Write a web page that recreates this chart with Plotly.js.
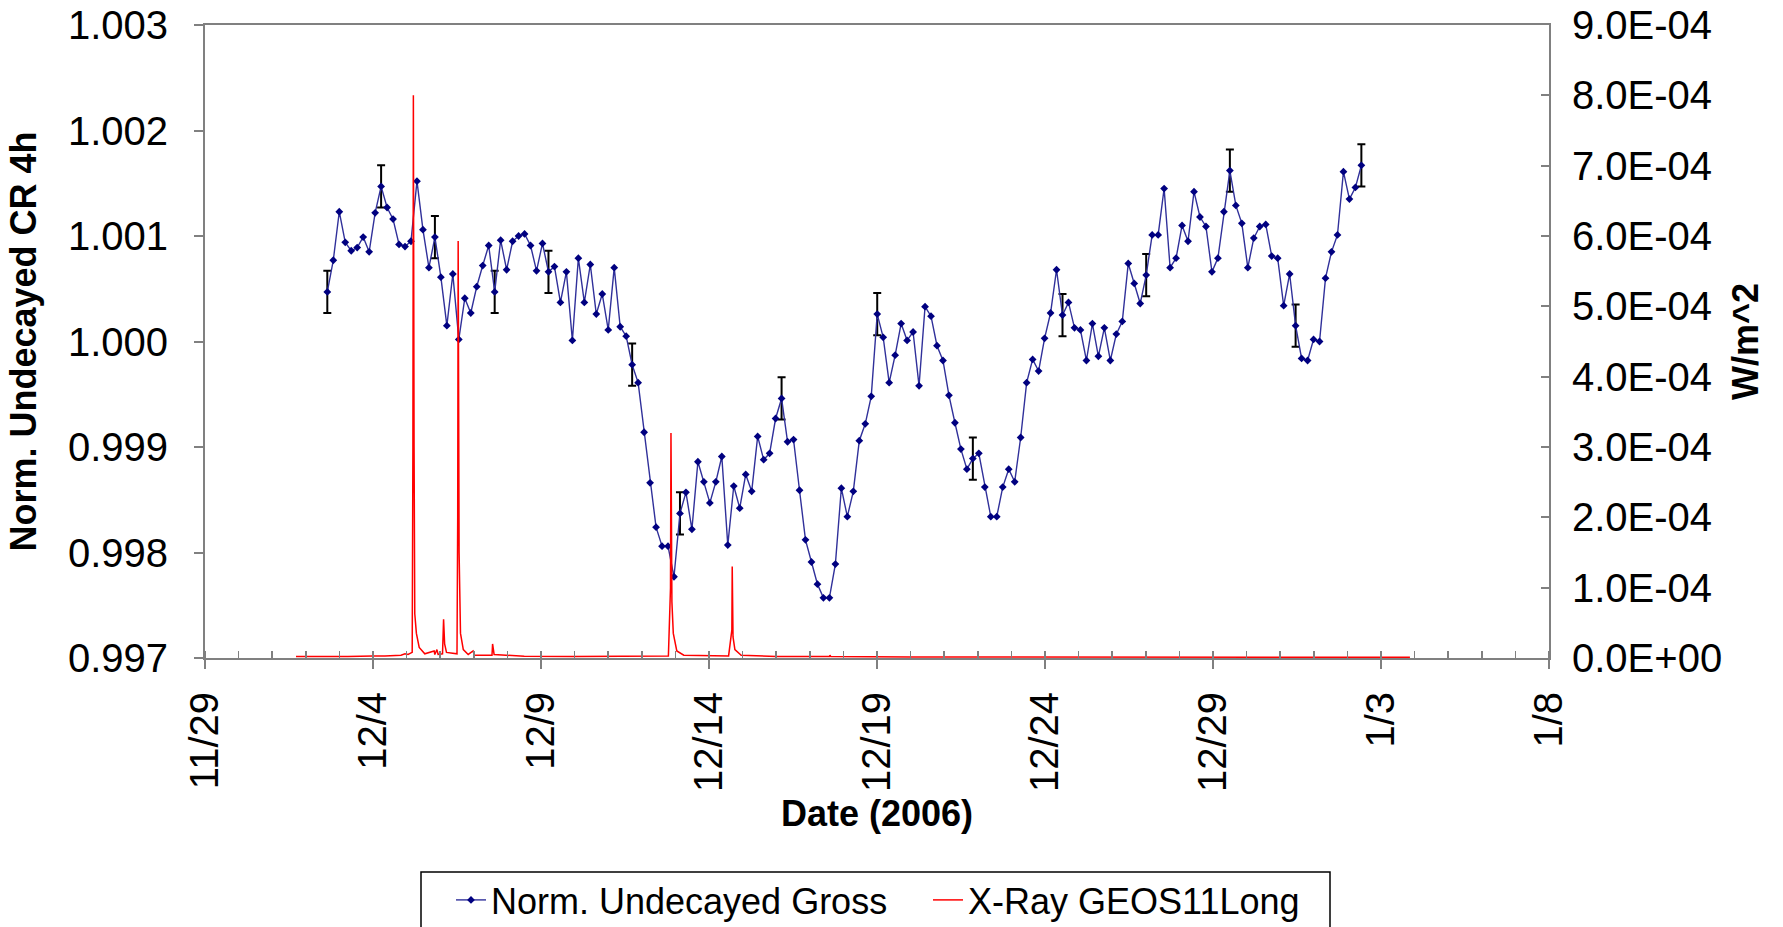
<!DOCTYPE html>
<html>
<head>
<meta charset="utf-8">
<script src="https://cdn.plot.ly/plotly-3.0.1.min.js"></script>
<style>
  html, body { margin: 0; padding: 0; background: #ffffff; }
  #chart { width: 1783px; height: 927px; }
</style>
</head>
<body>
<div id="chart"></div>
<script>
// ---------------- DATA ----------------
// Norm. Undecayed Gross: regularly sampled series (start time + sampling step)
const grossStart = '2006-12-02 15:22';
const grossStepMs = 15370000; // ~4.27 h between samples
const grossValues = [
  1.00047, 1.00077, 1.00123, 1.00094, 1.00086, 1.00089, 1.00099, 1.00085, 1.00122, 1.00147,
  1.00127, 1.00116, 1.00092, 1.00090, 1.00095, 1.00152, 1.00106, 1.00070, 1.00099, 1.00061,
  1.00015, 1.00064, 1.00002, 1.00041, 1.00027, 1.00052, 1.00072, 1.00091, 1.00047, 1.00096,
  1.00068, 1.00095, 1.00100, 1.00102, 1.00091, 1.00067, 1.00093, 1.00066, 1.00071, 1.00037,
  1.00066, 1.00001, 1.00079, 1.00037, 1.00073, 1.00026, 1.00045, 1.00011, 1.00070, 1.00014,
  1.00005, 0.99978, 0.99961, 0.99914, 0.99866, 0.99824, 0.99806, 0.99806, 0.99777, 0.99837,
  0.99857, 0.99822, 0.99886, 0.99867, 0.99847, 0.99867, 0.99891, 0.99807, 0.99863, 0.99842,
  0.99874, 0.99858, 0.99910, 0.99888, 0.99894, 0.99927, 0.99946, 0.99905, 0.99907, 0.99859,
  0.99812, 0.99791, 0.99770, 0.99757, 0.99757, 0.99789, 0.99861, 0.99834, 0.99858, 0.99906,
  0.99922, 0.99948, 1.00026, 1.00004, 0.99961, 0.99987, 1.00017, 1.00001, 1.00009, 0.99958,
  1.00033, 1.00024, 0.99996, 0.99982, 0.99949, 0.99923, 0.99898, 0.99879, 0.99889, 0.99894,
  0.99862, 0.99834, 0.99834, 0.99862, 0.99879, 0.99867, 0.99909, 0.99961, 0.99983, 0.99972,
  1.00003, 1.00027, 1.00068, 1.00025, 1.00037, 1.00013, 1.00011, 0.99982, 1.00017, 0.99986,
  1.00013, 0.99982, 1.00007, 1.00019, 1.00074, 1.00055, 1.00036, 1.00063, 1.00101, 1.00101,
  1.00145, 1.00070, 1.00079, 1.00110, 1.00095, 1.00142, 1.00118, 1.00109, 1.00066, 1.00079,
  1.00123, 1.00162, 1.00129, 1.00112, 1.00070, 1.00098, 1.00109, 1.00111, 1.00081, 1.00079,
  1.00034, 1.00064, 1.00015, 0.99984, 0.99982, 1.00002, 1.00000, 1.00060, 1.00085, 1.00101,
  1.00161, 1.00135, 1.00146, 1.00167
];
// samples that carry an error bar, and the bar size (+/-)
const errorPointIndex = [0, 9, 18, 28, 37, 51, 59, 76, 92, 108, 123, 137, 151, 162, 173];
const errorSize = [0.0002, 0.0002, 0.0002, 0.0002, 0.0002, 0.0002, 0.0002, 0.0002,
                   0.0002, 0.0002, 0.0002, 0.0002, 0.0002, 0.0002, 0.0002];

// X-Ray GEOS11 Long channel (W/m^2)
const xrayTimes = [
  '2006-12-01 17:00', '2006-12-02 12:00', '2006-12-03 06:00', '2006-12-04 00:00', '2006-12-04 07:00',
  '2006-12-04 07:30', '2006-12-04 08:30', '2006-12-04 20:00', '2006-12-04 22:50', '2006-12-05 01:00',
  '2006-12-05 04:00', '2006-12-05 04:30', '2006-12-05 04:50', '2006-12-05 05:20', '2006-12-05 05:50',
  '2006-12-05 07:00', '2006-12-05 09:00', '2006-12-05 13:00', '2006-12-05 19:40', '2006-12-05 20:10',
  '2006-12-05 21:40', '2006-12-05 22:30', '2006-12-06 01:40', '2006-12-06 02:25', '2006-12-06 03:10',
  '2006-12-06 04:30', '2006-12-06 12:00', '2006-12-06 12:30', '2006-12-06 12:50', '2006-12-06 13:30',
  '2006-12-06 14:30', '2006-12-06 16:30', '2006-12-06 20:00', '2006-12-06 23:30', '2006-12-07 00:30',
  '2006-12-07 13:00', '2006-12-07 13:25', '2006-12-07 14:30', '2006-12-08 12:00', '2006-12-10 00:00',
  '2006-12-11 12:00', '2006-12-12 19:00', '2006-12-12 20:30', '2006-12-12 20:50', '2006-12-12 21:30',
  '2006-12-12 22:30', '2006-12-13 01:00', '2006-12-13 06:00', '2006-12-14 14:00', '2006-12-14 16:20',
  '2006-12-14 16:35', '2006-12-14 17:10', '2006-12-14 18:30', '2006-12-14 23:00', '2006-12-16 00:00',
  '2006-12-17 14:00', '2006-12-17 14:25', '2006-12-17 15:00', '2006-12-20 00:00', '2006-12-25 00:00',
  '2006-12-30 00:00', '2007-01-03 20:40'
];
const xrayFlux = [
  2e-6, 1.5e-6, 2e-6, 3e-6, 3e-6,
  2.5e-6, 3e-6, 4e-6, 6e-6, 5e-6,
  8e-6, 3.0e-4, 8.0e-4, 3.0e-4, 6.3e-5,
  3.5e-5, 1.5e-5, 6e-6, 1.0e-5, 5e-6,
  1.2e-5, 5e-6, 6e-6, 5.5e-5, 2e-5,
  8e-6, 6e-6, 2.0e-4, 5.93e-4, 1.5e-4,
  3.5e-5, 1.2e-5, 5e-6, 1.0e-5, 4e-6,
  4e-6, 2.0e-5, 5e-6, 2.5e-6, 2e-6,
  2e-6, 3e-6, 1.0e-4, 3.2e-4, 8e-5,
  3.5e-5, 1.0e-5, 4e-6, 3e-6, 4e-5,
  1.3e-4, 3e-5, 1.2e-5, 4e-6, 2e-6,
  2e-6, 4e-6, 2e-6, 1.5e-6, 1e-6,
  1e-6, 1e-6
];

// axis ticks
const dateRange = ['2006-11-29', '2007-01-08'];
const dateTickFormat = '%-m/%-d';     // 11/29, 12/4, ... 1/8
const dateMajorStepDays = 5;
const dateMinorStepDays = 1;
const leftTickVals = [0.997, 0.998, 0.999, 1.000, 1.001, 1.002, 1.003];
const leftTickText = ['0.997', '0.998', '0.999', '1.000', '1.001', '1.002', '1.003'];
const rightTickVals = [0, 1e-4, 2e-4, 3e-4, 4e-4, 5e-4, 6e-4, 7e-4, 8e-4, 9e-4];
const rightTickText = ['0.0E+00', '1.0E-04', '2.0E-04', '3.0E-04', '4.0E-04',
                       '5.0E-04', '6.0E-04', '7.0E-04', '8.0E-04', '9.0E-04'];

// ---------------- CHART ----------------
const FONT = 'Liberation Sans, Arial, Helvetica, sans-serif';
const AXIS_GRAY = '#808080';
const DAY_MS = 86400000;

const errArray = grossValues.map(() => NaN);
errorPointIndex.forEach((k, j) => { errArray[k] = errorSize[j]; });

const grossTrace = {
  type: 'scatter',
  mode: 'lines+markers',
  name: 'Norm. Undecayed Gross',
  x0: grossStart,
  dx: grossStepMs,
  y: grossValues,
  line: { color: '#30309a', width: 1.4 },
  marker: { symbol: 'diamond', size: 6, color: '#000080' },
  error_y: { type: 'data', array: errArray, visible: true, color: '#000000', thickness: 2, width: 4 },
  xaxis: 'x', yaxis: 'y'
};

const xrayTrace = {
  type: 'scatter',
  mode: 'lines',
  name: 'X-Ray GEOS11Long',
  x: xrayTimes,
  y: xrayFlux,
  line: { color: '#ff0000', width: 1.5 },
  xaxis: 'x', yaxis: 'y2'
};

const L = 205, R = 1549, T = 25, B = 658;
const px2paperX = (p) => (p - L) / (R - L);
const px2paperY = (p) => (B - p) / (B - T);

const layout = {
  width: 1783, height: 927,
  margin: { l: L, r: 1783 - R, t: T, b: 927 - B, autoexpand: false },
  paper_bgcolor: '#ffffff', plot_bgcolor: '#ffffff',
  font: { family: FONT, color: '#000000' },
  showlegend: true,
  legend: {
    orientation: 'h', x: px2paperX(451), xanchor: 'left', y: px2paperY(870), yanchor: 'top',
    font: { size: 36, family: FONT, color: '#000000' },
    bgcolor: 'rgba(0,0,0,0)', borderwidth: 0, entrywidth: 432, traceorder: 'normal'
  },
  xaxis: {
    type: 'date', range: dateRange,
    tickmode: 'linear', tick0: dateRange[0], dtick: dateMajorStepDays * DAY_MS,
    tickformat: dateTickFormat,
    tickangle: -90, tickfont: { size: 40, family: FONT, color: '#000' },
    ticks: 'outside', ticklen: 9, tickwidth: 2, tickcolor: AXIS_GRAY,
    ticklabelstandoff: 7,
    minor: { tickmode: 'linear', tick0: dateRange[0], dtick: dateMinorStepDays * DAY_MS,
             ticks: 'inside', ticklen: 7, tickwidth: 1.5, tickcolor: AXIS_GRAY, showgrid: false },
    showline: true, linecolor: AXIS_GRAY, linewidth: 2, mirror: true,
    showgrid: false, zeroline: false, automargin: false,
    title: { text: 'Date (2006)', font: { size: 36, family: FONT, weight: 'bold' }, standoff: 10 }
  },
  yaxis: {
    range: [0.997, 1.003],
    tickmode: 'array', tickvals: leftTickVals, ticktext: leftTickText,
    tickfont: { size: 40, family: FONT, color: '#000' },
    ticks: 'outside', ticklen: 9, tickwidth: 2, tickcolor: AXIS_GRAY,
    ticklabelstandoff: 18,
    showline: true, linecolor: AXIS_GRAY, linewidth: 2,
    showgrid: false, zeroline: false, automargin: false,
    title: { text: 'Norm. Undecayed CR 4h', font: { size: 36, family: FONT, weight: 'bold' }, standoff: 20 }
  },
  yaxis2: {
    overlaying: 'y', side: 'right', range: [0, 9e-4],
    tickmode: 'array', tickvals: rightTickVals, ticktext: rightTickText,
    tickfont: { size: 40, family: FONT, color: '#000' },
    ticks: 'inside', ticklen: 8, tickwidth: 2, tickcolor: AXIS_GRAY,
    ticklabelstandoff: 13,
    showline: true, linecolor: AXIS_GRAY, linewidth: 2,
    showgrid: false, zeroline: false, automargin: false,
    title: { text: 'W/m^2', font: { size: 36, family: FONT, weight: 'bold' }, standoff: 12 }
  },
  shapes: [{
    type: 'rect', xref: 'paper', yref: 'paper',
    x0: px2paperX(421), x1: px2paperX(1330), y0: px2paperY(872), y1: px2paperY(945),
    line: { color: '#000000', width: 1.5 }, fillcolor: 'rgba(0,0,0,0)', layer: 'above'
  }]
};

Plotly.newPlot('chart', [grossTrace, xrayTrace], layout, { staticPlot: true, displayModeBar: false });
</script>
</body>
</html>
